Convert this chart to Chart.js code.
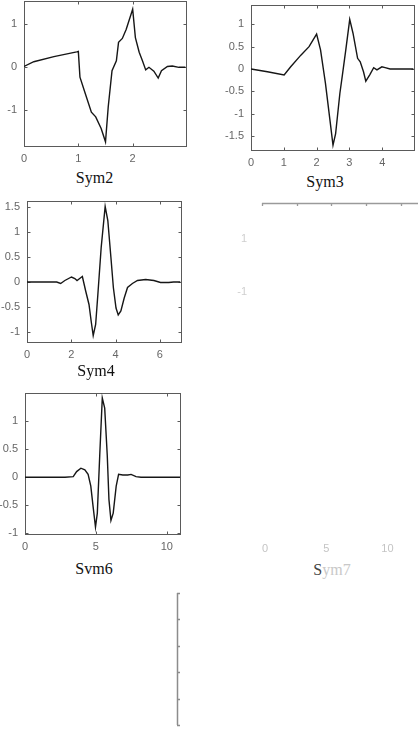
<!DOCTYPE html>
<html>
<head>
<meta charset="utf-8">
<script src="https://cdn.jsdelivr.net/npm/chart.js@4"></script>
<style>
  html, body { margin: 0; padding: 0; background: #fff; }
  #wrap { position: relative; width: 420px; height: 740px; overflow: hidden; background: #fff; }
  canvas { position: absolute; }
  .ttl { position: absolute; width: 100px; text-align: center; font-family: "Liberation Serif", "Times New Roman", serif; font-size: 16px; line-height: 16px; color: #111; white-space: nowrap; }
</style>
</head>
<body>
<div id="wrap"></div>
<script>
// ---------------- DATA ----------------
const sym2X = [0, 0.18, 0.55, 0.97, 1.0, 1.03, 1.12, 1.24, 1.32, 1.42, 1.5, 1.55, 1.62, 1.7, 1.74, 1.81, 1.88, 2.0, 2.05, 2.12, 2.18, 2.24, 2.3, 2.39, 2.47, 2.53, 2.64, 2.73, 2.85, 2.97];
const sym2Y = [0.02, 0.13, 0.25, 0.36, 0.37, -0.23, -0.58, -1.04, -1.15, -1.42, -1.73, -0.92, -0.08, 0.15, 0.58, 0.67, 0.88, 1.35, 0.69, 0.35, 0.15, -0.06, 0.0, -0.09, -0.25, -0.08, 0.02, 0.03, 0.0, 0.0];
const sym2XTicks = [0, 1, 2];
const sym2YTicks = [-1, 0, 1];

const sym3X = [0, 0.5, 1.01, 1.21, 1.52, 1.77, 2.0, 2.12, 2.27, 2.42, 2.5, 2.58, 2.71, 2.78, 2.89, 3.01, 3.11, 3.25, 3.33, 3.43, 3.5, 3.62, 3.74, 3.84, 3.99, 4.09, 4.24, 4.95];
const sym3Y = [0, -0.06, -0.13, 0.05, 0.31, 0.5, 0.78, 0.43, -0.32, -1.22, -1.70, -1.44, -0.54, -0.17, 0.43, 1.11, 0.80, 0.24, 0.16, -0.06, -0.27, -0.13, 0.03, -0.02, 0.05, 0.03, 0, 0];
const sym3XTicks = [0, 1, 2, 3, 4];
const sym3YTicks = [-1.5, -1, -0.5, 0, 0.5, 1];

const sym4X = [0, 1.34, 1.52, 1.71, 2.01, 2.16, 2.26, 2.38, 2.5, 2.65, 2.8, 2.9, 2.99, 3.1, 3.2, 3.35, 3.53, 3.65, 3.79, 3.9, 4.02, 4.12, 4.24, 4.39, 4.54, 4.76, 4.99, 5.36, 5.73, 6.03, 6.4, 6.62, 6.92];
const sym4Y = [0, 0, -0.03, 0.03, 0.10, 0.07, 0.03, 0.07, 0.11, -0.18, -0.45, -0.79, -1.07, -0.85, -0.25, 0.69, 1.51, 1.23, 0.49, -0.11, -0.52, -0.66, -0.58, -0.32, -0.11, -0.03, 0.03, 0.05, 0.03, -0.01, -0.01, 0, 0];
const sym4XTicks = [0, 2, 4, 6];
const sym4YTicks = [-1, -0.5, 0, 0.5, 1, 1.5];

const sym6X = [0, 2.59, 2.82, 3.4, 3.64, 3.94, 4.22, 4.45, 4.64, 4.8, 4.97, 5.1, 5.27, 5.45, 5.62, 5.8, 5.92, 6.06, 6.22, 6.43, 6.6, 6.9, 7.25, 7.48, 7.83, 8.18, 8.65, 10.93];
const sym6Y = [0, 0, 0, 0.01, 0.10, 0.16, 0.13, 0.05, -0.16, -0.52, -0.89, -0.64, 0.39, 1.41, 1.23, 0.39, -0.40, -0.77, -0.64, -0.16, 0.05, 0.04, 0.04, 0.05, 0.01, 0, 0, 0];
const sym6XTicks = [0, 5, 10];
const sym6YTicks = [-1, -0.5, 0, 0.5, 1];

// faded remnants of the Sym7 panel and of a lower panel
const sym7TopTicks = [0, 1, 2, 3, 4];
const sym7XTicks = [0, 5, 10];
const sym7YTicks = [-1, 1];
const lowerYTicks = [0, 1, 2, 3, 4, 5];

const titles = ["Sym2", "Sym3", "Sym4", "Svm6"];

// ---------------- HELPERS ----------------
const wrap = document.getElementById('wrap');
const TICK_FONT = { family: '"Liberation Sans", Arial, sans-serif', size: 11 };
const NOGRID = { display: false, drawTicks: false };

function fixW(w) { return s => { s.width = w; s.paddingTop = 0; s.paddingBottom = 0; s.paddingLeft = 0; s.paddingRight = 0; }; }
function fixH(h) { return s => { s.height = h; s.paddingTop = 0; s.paddingBottom = 0; s.paddingLeft = 0; s.paddingRight = 0; }; }

const boxTicks = {
  id: 'boxTicks',
  beforeDatasetsDraw(chart, args, o) {
    if (!o || !o.sides) return;
    const ctx = chart.ctx;
    const { left, right, top, bottom } = chart.chartArea;
    const xs = chart.scales[o.xId || 'x'];
    const ys = chart.scales[o.yId || 'y'];
    const len = o.len || 3.5;
    ctx.save();
    ctx.strokeStyle = o.color || '#555';
    ctx.lineWidth = o.width || 1;
    ctx.beginPath();
    const s = o.sides;
    if (s.includes('top')) { ctx.moveTo(left, top + 0.5); ctx.lineTo(right, top + 0.5); }
    if (s.includes('bottom')) { ctx.moveTo(left, bottom - 0.5); ctx.lineTo(right, bottom - 0.5); }
    if (s.includes('left')) { ctx.moveTo(left + 0.5, top); ctx.lineTo(left + 0.5, bottom); }
    if (s.includes('right')) { ctx.moveTo(right - 0.5, top); ctx.lineTo(right - 0.5, bottom); }
    if (xs) xs.ticks.forEach(t => {
      const p = Math.round(xs.getPixelForValue(t.value)) + 0.5;
      if (s.includes('bottom')) { ctx.moveTo(p, bottom); ctx.lineTo(p, bottom - len); }
      if (s.includes('top')) { ctx.moveTo(p, top); ctx.lineTo(p, top + len); }
    });
    if (ys) ys.ticks.forEach(t => {
      const p = Math.round(ys.getPixelForValue(t.value)) + 0.5;
      if (s.includes('left')) { ctx.moveTo(left, p); ctx.lineTo(left + len, p); }
      if (s.includes('right')) { ctx.moveTo(right, p); ctx.lineTo(right - len, p); }
    });
    ctx.stroke();
    ctx.restore();
  }
};
Chart.register(boxTicks);

function makeCanvas(l, t, r, b, yw, xh, pt, pr) {
  const c = document.createElement('canvas');
  const w = Math.round(r - l + yw + pr);
  const h = Math.round(b - t + pt + xh);
  c.width = w; c.height = h;
  c.style.left = (l - yw) + 'px';
  c.style.top = (t - pt) + 'px';
  c.style.width = w + 'px'; c.style.height = h + 'px';
  wrap.appendChild(c);
  return c;
}

function panel(area, xs, ys, xMin, xMax, yMin, yMax, xTicks, yTicks) {
  const [l, t, r, b] = area;
  const YW = 34, XH = 22, PT = 4, PR = 4;
  const c = makeCanvas(l, t, r, b, YW, XH, PT, PR);
  new Chart(c, {
    type: 'line',
    data: {
      datasets: [{
        data: xs.map((x, i) => ({ x: x, y: ys[i] })),
        borderColor: '#161616', borderWidth: 1.4, pointRadius: 0, tension: 0, fill: false
      }]
    },
    options: {
      responsive: false, animation: false, events: [],
      layout: { autoPadding: false, padding: { left: 0, top: PT, right: PR, bottom: 0 } },
      plugins: { legend: { display: false }, tooltip: { enabled: false },
        boxTicks: { sides: ['top', 'bottom', 'left', 'right'], color: '#5a5a5a', width: 1, len: 3.5 } },
      scales: {
        x: {
          type: 'linear', min: xMin, max: xMax, position: 'bottom',
          grid: NOGRID, border: { display: false },
          afterBuildTicks: s => { s.ticks = xTicks.map(v => ({ value: v })); },
          afterFit: fixH(XH),
          ticks: { color: '#666', font: TICK_FONT, padding: 5, maxRotation: 0, autoSkip: false, callback: v => String(v) }
        },
        y: {
          type: 'linear', min: yMin, max: yMax, position: 'left',
          grid: NOGRID, border: { display: false },
          afterBuildTicks: s => { s.ticks = yTicks.map(v => ({ value: v })); },
          afterFit: fixW(YW),
          ticks: { color: '#666', font: TICK_FONT, padding: 7, autoSkip: false, callback: v => String(v) }
        }
      }
    }
  });
}

function title(text, cx, top, html) {
  const d = document.createElement('div');
  d.className = 'ttl';
  d.style.left = (cx - 50) + 'px';
  d.style.top = top + 'px';
  if (html) d.innerHTML = html; else d.textContent = text;
  wrap.appendChild(d);
}

// ---------------- PANELS ----------------
panel([24, 1, 187, 147], sym2X, sym2Y, 0, 3, -1.85, 1.54, sym2XTicks, sym2YTicks);
panel([251, 5, 415, 151], sym3X, sym3Y, 0, 5, -1.83, 1.43, sym3XTicks, sym3YTicks);
panel([27, 201, 182, 343], sym4X, sym4Y, 0, 7, -1.22, 1.62, sym4XTicks, sym4YTicks);
panel([25, 393, 181, 535], sym6X, sym6Y, 0, 11, -1.03, 1.5, sym6XTicks, sym6YTicks);

title(titles[0], 94.5, 169.5);
title(titles[1], 325, 174);
title(titles[2], 96, 363);
title(titles[3], 94, 560.5);
title('Sym7', 332, 562, '<span style="color:#444">S</span><span style="color:#c8c8c8">ym7</span>');

// faded Sym7 panel (only its top edge and a few labels survive)
(function () {
  const l = 262, t = 203, r = 418, b = 538;
  const c = makeCanvas(l, t, r, b, 30, 22, 4, 2);
  new Chart(c, {
    type: 'line',
    data: { datasets: [] },
    options: {
      responsive: false, animation: false, events: [],
      layout: { autoPadding: false, padding: { left: 0, top: 4, right: 2, bottom: 0 } },
      plugins: { legend: { display: false }, tooltip: { enabled: false },
        boxTicks: { sides: ['top'], xId: 'x', yId: 'none', color: '#9a9a9a', width: 1.3, len: 3 } },
      scales: {
        x: { type: 'linear', min: 0, max: 4.5, position: 'top', display: false, grid: NOGRID,
          afterBuildTicks: s => { s.ticks = sym7TopTicks.map(v => ({ value: v })); },
          afterFit: fixH(0) },
        x2: { type: 'linear', min: -0.25, max: 12.5, position: 'bottom', grid: NOGRID, border: { display: false },
          afterBuildTicks: s => { s.ticks = sym7XTicks.map(v => ({ value: v })); },
          afterFit: fixH(22),
          ticks: { color: '#c4c4c4', font: TICK_FONT, padding: 4, autoSkip: false, maxRotation: 0, callback: v => String(v) } },
        y: { type: 'linear', min: -10.3, max: 2.36, position: 'left', grid: NOGRID, border: { display: false },
          afterBuildTicks: s => { s.ticks = sym7YTicks.map(v => ({ value: v })); },
          afterFit: fixW(30),
          ticks: { color: '#cfcfcf', font: TICK_FONT, padding: 15, autoSkip: false, callback: v => String(v) } }
      }
    }
  });
})();

// faded lower panel (only a vertical axis survives)
(function () {
  const l = 177, t = 593, r = 300, b = 725;
  const c = makeCanvas(l, t, r, b, 2, 2, 2, 2);
  new Chart(c, {
    type: 'line',
    data: { datasets: [] },
    options: {
      responsive: false, animation: false, events: [],
      layout: { autoPadding: false, padding: { left: 2, top: 2, right: 2, bottom: 2 } },
      plugins: { legend: { display: false }, tooltip: { enabled: false },
        boxTicks: { sides: ['left'], xId: 'none', yId: 'y', color: '#8c8c8c', width: 1.5, len: 3 } },
      scales: {
        x: { type: 'linear', min: 0, max: 1, display: false },
        y: { type: 'linear', min: 0, max: 5, position: 'left', grid: NOGRID, border: { display: false },
          afterBuildTicks: s => { s.ticks = lowerYTicks.map(v => ({ value: v })); },
          afterFit: fixW(0), ticks: { display: false } }
      }
    }
  });
})();
</script>
</body>
</html>
